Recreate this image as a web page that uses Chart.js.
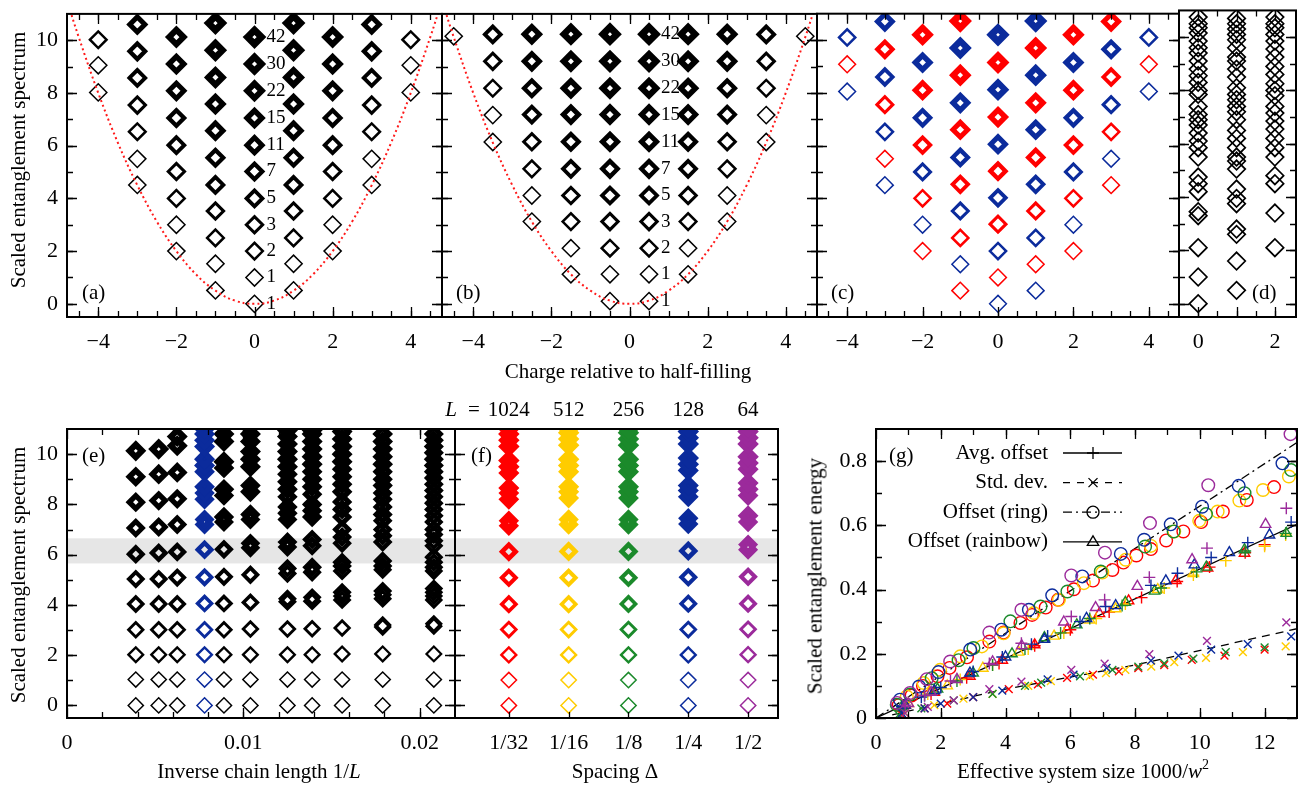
<!DOCTYPE html>
<html>
<head>
<meta charset="utf-8">
<script src="https://cdn.jsdelivr.net/npm/chart.js@4.4.0/dist/chart.umd.min.js"></script>
<style>
  body { margin: 0; background: #fff; width: 1309px; height: 789px; overflow: hidden; position: relative;
         font-family: "Liberation Serif", "Times New Roman", serif; }
  canvas { position: absolute; left: 0; top: 0; }
  .t { position: absolute; font-size: 21px; white-space: nowrap; color: #000; line-height: 1; }
  .rot { transform: translate(-50%, -50%) rotate(-90deg); }
  .ctr { transform: translate(-50%, -50%); }
  .lbl { transform: translateY(-50%); }
</style>
</head>
<body>
<canvas id="cA" width="1309" height="789"></canvas>
<canvas id="cB" width="1309" height="789"></canvas>
<canvas id="cC" width="1309" height="789"></canvas>
<canvas id="cD" width="1309" height="789"></canvas>
<canvas id="cE" width="1309" height="789"></canvas>
<canvas id="cF" width="1309" height="789"></canvas>
<canvas id="cG" width="1309" height="789"></canvas>

<div class="t rot" style="left:18px;top:160px">Scaled entanglement spectrum</div>
<div class="t rot" style="left:18px;top:575px">Scaled entanglement spectrum</div>
<div class="t rot" style="left:815px;top:576px">Scaled entanglement energy</div>
<div class="t ctr" style="left:628px;top:371px">Charge relative to half-filling</div>
<div class="t ctr" style="left:259px;top:771px">Inverse chain length 1/<i>L</i></div>
<div class="t ctr" style="left:615px;top:771px">Spacing Δ</div>
<div class="t ctr" style="left:1083px;top:770px">Effective system size 1000/<i>w</i><sup style="font-size:14px;vertical-align:9px">2</sup></div>
<div class="t lbl" style="left:82px;top:292px">(a)</div>
<div class="t lbl" style="left:456px;top:292px">(b)</div>
<div class="t lbl" style="left:831px;top:292px">(c)</div>
<div class="t lbl" style="left:1252px;top:292px">(d)</div>
<div class="t lbl" style="left:82px;top:455px">(e)</div>
<div class="t lbl" style="left:471px;top:455px">(f)</div>
<div class="t lbl" style="left:889px;top:455px">(g)</div>

<script>
// ---- shared ----
const partitions = [1, 1, 2, 3, 5, 7, 11, 15, 22, 30, 42];
const chargeTicks = [-4, -2, 0, 2, 4];
const chargeMinor = [-4.5, -4, -3.5, -3, -2.5, -2, -1.5, -1, -0.5, 0, 0.5, 1, 1.5, 2, 2.5, 3, 3.5, 4, 4.5];
const specTicks = [0, 2, 4, 6, 8, 10];
const specMinor = [0, 1, 2, 3, 4, 5, 6, 7, 8, 9, 10];

// parabola (a)/(b)
const curveX = [-4.8, -4.5, -4, -3.5, -3, -2.5, -2, -1.5, -1, -0.5, 0, 0.5, 1, 1.5, 2, 2.5, 3, 3.5, 4, 4.5, 4.8];
const curveY = [11.5, 10.12, 8, 6.12, 4.5, 3.12, 2, 1.12, 0.5, 0.12, 0, 0.12, 0.5, 1.12, 2, 3.12, 4.5, 6.12, 8, 10.12, 11.5];

// ---- panel (a) ----
const aCharges = [-4, -3, -2, -1, 0, 1, 2, 3, 4];
const aLevels = [
  [8.02, 9.05, 10.02],
  [4.51, 5.5, 6.53, 7.54, 8.57, 9.58, 10.6],
  [2, 3, 4, 5.02, 6.02, 7.05, 8.08, 9.1, 10.12],
  [0.51, 1.52, 2.5, 3.52, 4.51, 5.54, 6.57, 7.58, 8.59, 9.62, 10.65],
  [0, 1, 2, 3, 4, 5.02, 6.02, 7.05, 8.08, 9.1, 10.12],
  [0.51, 1.52, 2.5, 3.52, 4.51, 5.54, 6.57, 7.58, 8.59, 9.62, 10.65],
  [2, 3, 4, 5.02, 6.02, 7.05, 8.08, 9.1, 10.12],
  [4.51, 5.5, 6.53, 7.54, 8.57, 9.58, 10.6],
  [8.02, 9.05, 10.02]
];

// ---- panel (b) ----
const bCharges = [-4.5, -3.5, -2.5, -1.5, -0.5, 0.5, 1.5, 2.5, 3.5, 4.5];
const bLevels = [
  [10.15],
  [6.14, 7.16, 8.18, 9.2, 10.22],
  [3.12, 4.11, 5.12, 6.15, 7.18, 8.18, 9.2, 10.23],
  [1.12, 2.11, 3.12, 4.11, 5.12, 6.15, 7.18, 8.18, 9.2, 10.23],
  [0.1, 1.12, 2.11, 3.12, 4.11, 5.12, 6.15, 7.18, 8.18, 9.2, 10.23],
  [0.1, 1.12, 2.11, 3.12, 4.11, 5.12, 6.15, 7.18, 8.18, 9.2, 10.23],
  [1.12, 2.11, 3.12, 4.11, 5.12, 6.15, 7.18, 8.18, 9.2, 10.23],
  [3.12, 4.11, 5.12, 6.15, 7.18, 8.18, 9.2, 10.23],
  [6.14, 7.16, 8.18, 9.2, 10.22],
  [10.15]
];

// ---- panel (c) ----
const cCharges = [-4, -3, -2, -1, 0, 1, 2, 3, 4];
const cLevels = [
  [8.05, 9.08, 10.1],
  [4.5, 5.5, 6.52, 7.55, 8.6, 9.65, 10.7],
  [2, 3, 4, 5, 6.02, 7.05, 8.1, 9.15, 10.2],
  [0.5, 1.5, 2.5, 3.52, 4.53, 5.55, 6.6, 7.62, 8.67, 9.7, 10.72],
  [0, 1, 2, 3.02, 4.02, 5.03, 6.05, 7.08, 8.12, 9.15, 10.2],
  [0.5, 1.5, 2.5, 3.52, 4.53, 5.55, 6.6, 7.62, 8.67, 9.7, 10.72],
  [2, 3, 4, 5, 6.02, 7.05, 8.1, 9.15, 10.2],
  [4.5, 5.5, 6.52, 7.55, 8.6, 9.65, 10.7],
  [8.05, 9.08, 10.1]
];
const cFirstSector = ['B', 'B', 'R', 'R', 'B', 'B', 'R', 'R', 'B'];

// ---- panel (d) ----
const dColumns = [0, 1, 2];
const dLevels = [
  [0, 1.0, 2.1, 3.3, 3.45, 4.2, 4.5, 4.75, 5.5, 5.85, 6.1, 6.4, 6.7, 6.9, 7.1, 7.4, 7.85, 8.0, 8.3, 8.55, 8.8, 9.1, 9.4, 9.6, 9.85, 10.15, 10.35, 10.5, 10.75],
  [0.5, 1.6, 2.6, 2.8, 3.75, 3.95, 4.3, 5.05, 5.35, 5.5, 5.85, 6.2, 6.5, 6.9, 7.2, 7.4, 7.65, 7.85, 8.1, 8.5, 8.8, 9.1, 9.25, 9.6, 9.9, 10.1, 10.3, 10.5, 10.7],
  [2.1, 3.4, 4.5, 4.8, 5.5, 5.85, 6.2, 6.55, 6.85, 7.15, 7.4, 7.8, 8.0, 8.25, 8.6, 8.9, 9.25, 9.55, 9.85, 10.1, 10.35, 10.5, 10.75]
];

// ---- panel (e) ----
const eChainL = [256, 192, 160, 128, 112, 96, 80, 72, 64, 56, 48];
const eInvL = [0.0039, 0.0052, 0.00625, 0.0078, 0.0089, 0.0104, 0.0125, 0.0139, 0.0156, 0.0179, 0.0208];
const eLevels = [
  [0, 1.03, 2.02, 3.01, 4.04, 5.03, 6.02, 7.06, 8.09, 9.1, 10.13],
  [0, 1.03, 2.02, 3.01, 4.04, 5.03, 6.07, 7.1, 8.15, 9.2, 10.2],
  [0, 1.03, 2.02, 3.01, 4.04, 5.09, 6.11, 7.2, 8.22, 9.27, 10.33, 10.7],
  [0, 1.03, 2.02, 3.01, 4.06, 5.1, 6.2, 7.2, 7.4, 8.2, 8.45, 8.7, 9.3, 9.55, 9.8, 10.3, 10.55, 10.8, 11.0],
  [0, 1.03, 2.02, 3.01, 4.06, 5.12, 6.21, 7.3, 7.5, 8.35, 8.6, 9.45, 9.7, 10.5, 10.8],
  [0, 1.03, 2.02, 3.04, 4.1, 5.2, 6.27, 6.45, 7.4, 7.6, 8.5, 8.75, 9.5, 9.8, 10.1, 10.5, 10.8],
  [0, 1.03, 2.02, 3.04, 4.13, 4.25, 5.25, 5.45, 6.3, 6.5, 7.4, 7.65, 7.9, 8.3, 8.6, 8.9, 9.2, 9.5, 9.8, 10.1, 10.4, 10.7, 10.95],
  [0, 1.03, 2.02, 3.05, 4.15, 4.3, 5.3, 5.5, 6.35, 6.6, 7.5, 7.75, 8.0, 8.4, 8.7, 9.0, 9.3, 9.6, 9.9, 10.2, 10.5, 10.8, 10.95],
  [0, 1.03, 2.05, 3.08, 4.2, 4.35, 4.5, 5.35, 5.55, 5.7, 6.45, 6.7, 7.0, 7.5, 7.8, 8.1, 8.5, 8.8, 9.1, 9.4, 9.7, 10.0, 10.3, 10.6, 10.9],
  [0, 1.03, 2.05, 3.12, 3.2, 4.25, 4.4, 4.55, 5.4, 5.55, 5.75, 6.5, 6.75, 7.0, 7.35, 7.6, 7.9, 8.2, 8.45, 8.75, 9.0, 9.3, 9.6, 9.9, 10.2, 10.5, 10.8],
  [0, 1.03, 2.05, 3.15, 3.25, 4.2, 4.35, 4.5, 4.65, 5.35, 5.5, 5.7, 5.9, 6.35, 6.55, 6.8, 7.0, 7.3, 7.55, 7.8, 8.05, 8.3, 8.55, 8.8, 9.05, 9.3, 9.55, 9.8, 10.05, 10.3, 10.55, 10.8]
];
const eTicks = [0, 0.01, 0.02];
const eMinor = [0.002, 0.004, 0.006, 0.008, 0.01, 0.012, 0.014, 0.016, 0.018, 0.02];
const bandLo = 5.65, bandHi = 6.65;

// ---- panel (f) ----
const fSpacing = ['1/32', '1/16', '1/8', '1/4', '1/2'];
const fChainL = ['1024', '512', '256', '128', '64'];
const fLevels = [
  [0, 1.01, 2.01, 3.02, 4.03, 5.08, 6.12, 7.15, 7.35, 8.2, 8.45, 8.65, 9.25, 9.5, 9.75, 10.3, 10.55, 10.8, 11.0],
  [0, 1.01, 2.01, 3.02, 4.03, 5.08, 6.13, 7.2, 7.4, 8.25, 8.5, 8.7, 9.3, 9.55, 9.8, 10.35, 10.6, 10.85, 11.0],
  [0, 1.01, 2.01, 3.02, 4.04, 5.08, 6.13, 7.2, 7.4, 8.25, 8.5, 8.7, 9.3, 9.55, 9.8, 10.35, 10.6, 10.85, 11.0],
  [0, 1.01, 2.01, 3.02, 4.05, 5.1, 6.15, 7.22, 7.45, 8.3, 8.55, 8.75, 9.35, 9.6, 9.85, 10.4, 10.65, 10.9, 11.05],
  [0, 1.01, 2.02, 3.03, 4.05, 5.12, 6.2, 6.4, 7.3, 7.55, 8.35, 8.6, 8.85, 9.4, 9.65, 9.9, 10.4, 10.65, 10.9, 11.05]
];

// ---- panel (g) ----
const gTicksX = [0, 2, 4, 6, 8, 10, 12];
const gMinorX = [1, 2, 3, 4, 5, 6, 7, 8, 9, 10, 11, 12];
const gTicksY = [0, 0.2, 0.4, 0.6, 0.8];
const gMinorY = [0.1, 0.2, 0.3, 0.4, 0.5, 0.6, 0.7, 0.8];

const gRingPurple = [[0.65,0.047],[1.05,0.078],[1.57,0.121],[2.29,0.176],[3.5,0.266],[4.49,0.337],[6.03,0.444],[7.07,0.515],[8.46,0.607],[10.26,0.725],[12.8,0.884]];
const gRingBlue = [[0.74,0.057],[1.33,0.098],[1.93,0.143],[2.91,0.213],[3.87,0.275],[4.72,0.337],[5.44,0.382],[6.37,0.441],[7.56,0.511],[8.28,0.555],[9.1,0.603],[10.07,0.658],[11.2,0.723],[12.55,0.793]];
const gRingGreen = [[0.64,0.041],[1.05,0.073],[1.72,0.124],[2.55,0.18],[3.01,0.218],[4.15,0.301],[5.08,0.347],[5.91,0.394],[6.94,0.456],[8.31,0.534],[9.19,0.581],[10.19,0.635],[11.38,0.7],[12.82,0.772]];
const gRingYellow = [[0.95,0.067],[1.47,0.109],[1.98,0.15],[2.6,0.192],[3.27,0.223],[3.94,0.264],[4.87,0.327],[5.65,0.368],[6.42,0.42],[6.99,0.453],[7.71,0.493],[8.49,0.536],[9.21,0.581],[9.98,0.614],[10.55,0.643],[11.22,0.677],[11.95,0.71],[12.75,0.752]];
const gRingRed = [[0.7,0.04],[1.1,0.07],[1.45,0.1],[1.9,0.13],[2.27,0.156],[2.81,0.189],[3.5,0.238],[3.94,0.266],[4.46,0.296],[4.82,0.321],[5.24,0.344],[5.62,0.368],[6.11,0.401],[6.7,0.428],[7.3,0.461],[7.64,0.484],[8.04,0.506],[8.49,0.526],[8.96,0.553],[9.49,0.581],[10.04,0.61],[10.71,0.643],[11.45,0.679],[12.29,0.719]];

const gAvgPurple = [[0.9,0.04],[1.5,0.07],[2.3,0.115],[3.5,0.17],[4.49,0.233],[6.03,0.316],[7.06,0.368],[8.44,0.438],[10.22,0.529],[12.67,0.653]];
const gAvgBlue = [[0.8,0.035],[1.4,0.065],[2.0,0.095],[3.0,0.145],[3.9,0.19],[4.8,0.23],[5.3,0.255],[6.3,0.3],[7.09,0.347],[8.49,0.413],[9.31,0.451],[10.35,0.5],[11.48,0.546],[12.82,0.61]];
const gAvgGreen = [[0.8,0.03],[1.5,0.07],[2.5,0.115],[3.6,0.165],[4.6,0.215],[5.7,0.265],[6.6,0.31],[7.6,0.35],[8.8,0.405],[9.9,0.455],[11.4,0.52],[12.65,0.575]];
const gAvgYellow = [[0.9,0.035],[1.6,0.075],[2.6,0.12],[3.6,0.165],[4.7,0.215],[5.8,0.265],[6.8,0.31],[7.7,0.355],[8.9,0.405],[9.8,0.445],[10.8,0.49],[12.0,0.535],[12.65,0.57]];
const gAvgRed = [[0.85,0.03],[1.7,0.075],[2.8,0.125],[3.8,0.17],[4.9,0.225],[6.0,0.275],[7.2,0.33],[8.2,0.375],[9.3,0.425],[10.3,0.47],[11.4,0.515],[12.0,0.54]];

const gRainPurple = [[1.0,0.045],[1.7,0.08],[2.5,0.12],[3.6,0.175],[4.5,0.225],[5.8,0.299],[6.78,0.344],[8.07,0.41],[9.76,0.493],[12.03,0.603]];
const gRainBlue = [[0.9,0.04],[1.8,0.085],[2.9,0.14],[4.0,0.19],[5.2,0.245],[6.5,0.31],[7.4,0.35],[8.95,0.427],[9.83,0.477],[10.91,0.515],[12.15,0.57]];
const gRainGreen = [[0.8,0.035],[1.9,0.09],[3.0,0.14],[4.2,0.2],[5.2,0.25],[6.2,0.29],[7.7,0.36],[8.6,0.395],[10.2,0.47],[11.38,0.524],[12.67,0.575]];
const gRainYellow = [[1.0,0.045],[2.2,0.1],[3.3,0.155],[4.4,0.205],[5.5,0.255],[6.6,0.305],[7.4,0.34],[8.7,0.4],[9.8,0.45]];
const gRainRed = [[0.9,0.04],[1.8,0.08],[2.9,0.13],[3.9,0.18],[4.9,0.228],[5.9,0.275],[6.9,0.325],[7.8,0.365],[9.26,0.428],[10.24,0.467],[11.38,0.513]];

const gStdPurple = [[0.9,0.015],[1.6,0.035],[2.4,0.055],[3.5,0.09],[4.49,0.113],[6.03,0.15],[7.06,0.169],[8.44,0.199],[10.22,0.24],[12.67,0.298]];
const gStdBlue = [[0.8,0.015],[1.5,0.03],[2.0,0.045],[3.0,0.065],[3.9,0.085],[5.3,0.12],[6.1,0.135],[7.12,0.156],[8.49,0.179],[9.34,0.194],[10.35,0.213],[11.48,0.23],[12.82,0.254]];
const gStdGreen = [[0.7,0.01],[1.4,0.03],[2.4,0.055],[3.6,0.075],[4.6,0.1],[5.1,0.11],[6.3,0.13],[7.3,0.15],[8.1,0.16],[8.9,0.17],[9.8,0.185],[10.8,0.205],[12.0,0.22]];
const gStdYellow = [[0.9,0.015],[1.8,0.04],[2.7,0.06],[3.6,0.075],[4.7,0.1],[5.4,0.115],[6.6,0.13],[7.1,0.14],[7.7,0.15],[8.5,0.16],[9.21,0.174],[10.19,0.187],[11.33,0.205],[12.65,0.223]];
const gStdRed = [[0.8,0.01],[1.5,0.03],[2.2,0.045],[3.0,0.065],[4.1,0.09],[5.0,0.105],[5.9,0.125],[6.7,0.135],[7.5,0.145],[8.1,0.155],[8.9,0.165],[9.75,0.181],[10.76,0.194],[12.0,0.213]];

const gAvgLineX = [0, 13], gAvgLineY = [0, 0.603];
const gRingLineX = [0, 13], gRingLineY = [0, 0.858];
const gStdLineX = [0.5, 4, 8, 13], gStdLineY = [0.01, 0.09, 0.165, 0.278];
const gLegendLabels = ['Avg. offset', 'Std. dev.', 'Offset (ring)', 'Offset (rainbow)'];

// ---- colours ----
const RED = '#ff0000', YELLOW = '#ffcc00', GREEN = '#1b8a2b', BLUE = '#0b2b9c', PURPLE = '#9b2a9b', BLACK = '#000';
const W = 1309, H = 789;
const SERIF = '"Liberation Serif", "Times New Roman", serif';

Chart.defaults.font.family = SERIF;
Chart.defaults.color = '#000';

function fmt(v) { return v < 0 ? '\u2212' + Math.abs(v) : String(v); }

// stroke width grows with the degeneracy of the level
function strokeFor(level, factor) {
  const k = Math.max(0, Math.min(partitions.length - 1, level));
  return 1.5 + 1.45 * Math.log(partitions[k]) * (factor === undefined ? 1 : factor);
}

// thin marks keep radius R, thick ones shrink a little so the blob does not balloon
function diamonds(points, color, R, widthOf) {
  const wOf = ctx => (ctx.raw ? widthOf(ctx) : 1.5);
  return {
    data: points,
    showLine: false,
    clip: 0,
    pointStyle: 'rectRot',
    pointBackgroundColor: 'rgba(0,0,0,0)',
    pointBorderColor: color,
    pointBorderWidth: wOf,
    pointRadius: ctx => R - 0.3 * (wOf(ctx) - 1.5)
  };
}

function curveSet(xs, ys) {
  return {
    data: xs.map((x, i) => ({ x, y: ys[i] })),
    showLine: true, pointRadius: 0, borderColor: '#ff1a1a', borderWidth: 2,
    borderDash: [2, 3], tension: 0.4, clip: 0
  };
}

// inward ticks + frame
const frameTicks = {
  id: 'frameTicks',
  afterDraw(chart, args, o) {
    const { ctx, chartArea: a, scales } = chart;
    ctx.save();
    ctx.strokeStyle = '#000';
    ctx.lineWidth = 1.3;
    ctx.setLineDash([]);
    const xs = (vals, len) => (vals || []).forEach(v => {
      const p = Math.round(scales.x.getPixelForValue(v)) + 0.5;
      ctx.beginPath();
      ctx.moveTo(p, a.bottom); ctx.lineTo(p, a.bottom - len);
      if (o.top !== false) { ctx.moveTo(p, a.top); ctx.lineTo(p, a.top + len); }
      ctx.stroke();
    });
    const ys = (vals, len) => (vals || []).forEach(v => {
      const p = Math.round(scales.y.getPixelForValue(v)) + 0.5;
      ctx.beginPath();
      ctx.moveTo(a.left, p); ctx.lineTo(a.left + len, p);
      ctx.moveTo(a.right, p); ctx.lineTo(a.right - len, p);
      ctx.stroke();
    });
    xs(o.xMinor, 6); xs(o.xMajor, 10);
    ys(o.yMinor, 6); ys(o.yMajor, 10);
    ctx.lineWidth = 2;
    ctx.strokeRect(a.left, a.top, a.right - a.left, a.bottom - a.top);
    ctx.restore();
  }
};

// text anchored to data coordinates
const dataText = {
  id: 'dataText',
  afterDatasetsDraw(chart, args, o) {
    const { ctx, scales, chartArea } = chart;
    ctx.save();
    (o.items || []).forEach(it => {
      ctx.font = (it.italic ? 'italic ' : '') + (it.size || 19) + 'px ' + SERIF;
      ctx.fillStyle = '#000';
      ctx.textAlign = it.align || 'left';
      ctx.textBaseline = 'middle';
      const px = scales.x.getPixelForValue(it.x) + (it.dx || 0);
      const py = it.y !== undefined ? scales.y.getPixelForValue(it.y) : chartArea.top + it.dy;
      ctx.fillText(it.text, px, py);
    });
    ctx.restore();
  }
};

// grey band behind the points
const bandPlugin = {
  id: 'band',
  beforeDatasetsDraw(chart, args, o) {
    const { ctx, chartArea: a, scales } = chart;
    const y1 = scales.y.getPixelForValue(o.hi), y2 = scales.y.getPixelForValue(o.lo);
    ctx.save();
    ctx.fillStyle = '#e6e6e6';
    ctx.fillRect(a.left, y1, a.right - a.left, y2 - y1);
    ctx.restore();
  }
};

function drawMark(ctx, style, x, y, r) {
  ctx.beginPath();
  if (style === 'circle') ctx.arc(x, y, r, 0, Math.PI * 2);
  else if (style === 'cross') { ctx.moveTo(x - r, y); ctx.lineTo(x + r, y); ctx.moveTo(x, y - r); ctx.lineTo(x, y + r); }
  else if (style === 'crossRot') { const d = r * 0.75; ctx.moveTo(x - d, y - d); ctx.lineTo(x + d, y + d); ctx.moveTo(x - d, y + d); ctx.lineTo(x + d, y - d); }
  else if (style === 'triangle') { ctx.moveTo(x, y - r); ctx.lineTo(x + r * 0.95, y + r * 0.6); ctx.lineTo(x - r * 0.95, y + r * 0.6); ctx.closePath(); }
  ctx.stroke();
}

const gLegend = {
  id: 'gLegend',
  afterDraw(chart, args, o) {
    const { ctx, chartArea: a } = chart;
    ctx.save();
    o.rows.forEach((row, i) => {
      const y = a.top + 24 + i * 29.6;
      ctx.font = '21px ' + SERIF;
      ctx.fillStyle = '#000';
      ctx.textAlign = 'right';
      ctx.textBaseline = 'middle';
      ctx.fillText(row.label, a.left + 172, y);
      ctx.strokeStyle = '#000';
      ctx.lineWidth = 1.3;
      ctx.setLineDash(row.dash);
      ctx.beginPath(); ctx.moveTo(a.left + 187, y); ctx.lineTo(a.left + 246, y); ctx.stroke();
      ctx.setLineDash([]);
      drawMark(ctx, row.mark, a.left + 217, y, 6);
    });
    ctx.restore();
  }
};

function makePanel(id, area, spec) {
  const xLab = !!spec.xLabels, yLab = !!spec.yLabels;
  const zeroPad = s => { s.paddingTop = 0; s.paddingBottom = 0; s.paddingLeft = 0; s.paddingRight = 0; };
  return new Chart(document.getElementById(id), {
    type: 'scatter',
    data: { datasets: spec.datasets },
    options: {
      responsive: false, animation: false, events: [], devicePixelRatio: 1,
      layout: { padding: { left: yLab ? 0 : area.l, top: area.t, right: W - area.r, bottom: H - area.b - (xLab ? 60 : 0) } },
      scales: {
        x: {
          type: 'linear', min: spec.xMin, max: spec.xMax, display: xLab,
          grid: { display: false, drawTicks: false }, border: { display: false },
          ticks: { font: { size: 22 }, padding: spec.xPad || 12, maxRotation: 0, autoSkip: false, callback: spec.xFmt || fmt },
          afterBuildTicks: s => { s.ticks = (spec.xLabels || []).map(v => ({ value: v })); },
          afterFit: s => { s.height = xLab ? 60 : 0; zeroPad(s); }
        },
        y: {
          type: 'linear', min: spec.yMin, max: spec.yMax, display: yLab,
          grid: { display: false, drawTicks: false }, border: { display: false },
          ticks: { font: { size: 22 }, padding: 9, autoSkip: false, callback: spec.yFmt || fmt },
          afterBuildTicks: s => { s.ticks = (spec.yLabels || []).map(v => ({ value: v })); },
          afterFit: s => { s.width = yLab ? area.l : 0; zeroPad(s); }
        }
      },
      plugins: {
        legend: { display: false }, tooltip: { enabled: false },
        frameTicks: spec.frame,
        dataText: { items: spec.texts || [] },
        band: spec.band || false,
        gLegend: spec.legend || false
      }
    },
    plugins: [bandPlugin, frameTicks, dataText, gLegend]
  });
}

// ---- top row ----
const topY = { yMin: -0.5, yMax: 11 };
const topFrame = { xMajor: chargeTicks, xMinor: chargeMinor, yMajor: specTicks, yMinor: specMinor };

const aSets = aCharges.map((q, c) => diamonds(
  aLevels[c].map(y => ({ x: q, y })), BLACK, 8.6, ctx => strokeFor(ctx.dataIndex)));
aSets.unshift(curveSet(curveX, curveY));
makePanel('cA', { l: 67, t: 2, r: 442, b: 317 }, Object.assign({
  xMin: -4.8, xMax: 4.8, xLabels: chargeTicks, yLabels: specTicks, datasets: aSets, frame: topFrame,
  texts: aLevels[aCharges.indexOf(0)].map((y, k) => ({ x: 0, dx: 12, y, text: String(partitions[k]) }))
}, topY));

const bSets = bCharges.map((q, c) => diamonds(
  bLevels[c].map(y => ({ x: q, y })), BLACK, 8.6, ctx => strokeFor(ctx.dataIndex)));
bSets.unshift(curveSet(curveX, curveY));
makePanel('cB', { l: 442, t: 2, r: 817, b: 317 }, Object.assign({
  xMin: -4.8, xMax: 4.8, xLabels: chargeTicks, datasets: bSets, frame: topFrame,
  texts: bLevels[bCharges.indexOf(0.5)].map((y, k) => ({ x: 0.5, dx: 12, y, text: String(partitions[k]) }))
}, topY));

const cSets = cCharges.map((q, c) => {
  const start = cFirstSector[c] === 'B' ? 0 : 1;
  return diamonds(cLevels[c].map(y => ({ x: q, y })),
    ctx => ((ctx.dataIndex + start) % 2 === 0 ? BLUE : RED), 8.4, ctx => strokeFor(ctx.dataIndex));
});
makePanel('cC', { l: 817, t: 2, r: 1179, b: 317 }, Object.assign({
  xMin: -4.8, xMax: 4.8, xLabels: chargeTicks, datasets: cSets, frame: topFrame
}, topY));

const dSets = dColumns.map((q, c) => diamonds(dLevels[c].map(y => ({ x: q, y })), BLACK, 8.8, () => 1.7));
makePanel('cD', { l: 1179, t: 2, r: 1296, b: 317 }, Object.assign({
  xMin: -0.5, xMax: 2.55, xLabels: [0, 2], datasets: dSets,
  frame: { xMajor: [0, 1, 2], xMinor: [0, 0.5, 1, 1.5, 2], yMajor: specTicks, yMinor: specMinor }
}, topY));

// ---- bottom row ----
const eSets = eInvL.map((x, c) => {
  const f = 0.85 * Math.min(1, 24 / eLevels[c].length);
  return diamonds(eLevels[c].map(y => ({ x, y })), eChainL[c] === 128 ? BLUE : BLACK, 7.6,
    ctx => strokeFor(Math.round(ctx.raw.y), f));
});
makePanel('cE', { l: 67, t: 429, r: 455, b: 718 }, {
  xMin: 0, xMax: 0.022, yMin: -0.5, yMax: 11, xLabels: eTicks, yLabels: specTicks, datasets: eSets,
  xFmt: v => String(v),
  frame: { xMajor: eTicks, xMinor: eMinor, yMajor: specTicks, yMinor: specMinor },
  band: { lo: bandLo, hi: bandHi }
});

const fColors = [RED, YELLOW, GREEN, BLUE, PURPLE];
const fSets = fLevels.map((lv, c) => diamonds(lv.map(y => ({ x: c, y })), fColors[c], 7.7,
  ctx => strokeFor(Math.round(ctx.raw.y), 0.9)));
const fTexts = fChainL.map((t, c) => ({ x: c, dy: -19, text: t, align: 'center', size: 21 }));
fTexts.push({ x: 0, dy: -19, dx: -29, text: '=', align: 'right', size: 21 });
fTexts.push({ x: 0, dy: -19, dx: -52, text: 'L', align: 'right', size: 21, italic: true });
makePanel('cF', { l: 455, t: 429, r: 778, b: 718 }, {
  xMin: -0.9, xMax: 4.5, yMin: -0.5, yMax: 11, xLabels: [0, 1, 2, 3, 4], datasets: fSets,
  xFmt: v => fSpacing[v],
  frame: { xMajor: [], xMinor: [0, 1, 2, 3, 4], top: false, yMajor: specTicks, yMinor: specMinor },
  band: { lo: bandLo, hi: bandHi }, texts: fTexts
});

function gSeries(points, color, style, r) {
  return {
    data: points.map(p => ({ x: p[0], y: p[1] })), showLine: false,
    pointStyle: style, pointRadius: r, pointBorderWidth: 1.4,
    pointBorderColor: color, pointBackgroundColor: 'rgba(0,0,0,0)'
  };
}
function gLine(xs, ys, dash) {
  return {
    data: xs.map((x, i) => ({ x, y: ys[i] })), showLine: true, pointRadius: 0,
    borderColor: '#000', borderWidth: 1.3, borderDash: dash, clip: 0
  };
}
const gColors = [PURPLE, BLUE, GREEN, YELLOW, RED];
const gRing = [gRingPurple, gRingBlue, gRingGreen, gRingYellow, gRingRed];
const gAvg = [gAvgPurple, gAvgBlue, gAvgGreen, gAvgYellow, gAvgRed];
const gRain = [gRainPurple, gRainBlue, gRainGreen, gRainYellow, gRainRed];
const gStd = [gStdPurple, gStdBlue, gStdGreen, gStdYellow, gStdRed];
const gSets = [];
gColors.forEach((col, c) => {
  gSets.push(gSeries(gStd[c], col, 'crossRot', 5.5));
  gSets.push(gSeries(gAvg[c], col, 'cross', 6));
  gSets.push(gSeries(gRain[c], col, 'triangle', 6));
  gSets.push(gSeries(gRing[c], col, 'circle', 6.3));
});
gSets.push(gLine(gAvgLineX, gAvgLineY, []));
gSets.push(gLine(gStdLineX, gStdLineY, [8, 6]));
gSets.push(gLine(gRingLineX, gRingLineY, [9, 4, 2, 4]));
makePanel('cG', { l: 876, t: 429, r: 1297, b: 718 }, {
  xMin: 0, xMax: 13, yMin: 0, yMax: 0.9, xLabels: gTicksX, yLabels: gTicksY, datasets: gSets,
  xFmt: v => String(v), yFmt: v => String(v),
  frame: { xMajor: gTicksX, xMinor: gMinorX, yMajor: gTicksY, yMinor: gMinorY },
  legend: { rows: [
    { label: gLegendLabels[0], dash: [], mark: 'cross' },
    { label: gLegendLabels[1], dash: [7, 7], mark: 'crossRot' },
    { label: gLegendLabels[2], dash: [9, 4, 2, 4], mark: 'circle' },
    { label: gLegendLabels[3], dash: [], mark: 'triangle' }
  ] }
});
</script>
</body>
</html>
